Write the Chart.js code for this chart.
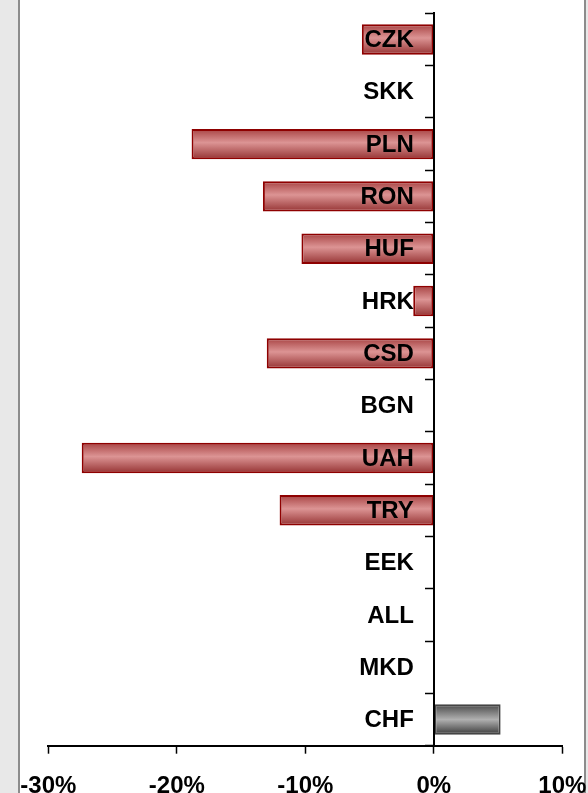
<!DOCTYPE html>
<html>
<head>
<meta charset="utf-8">
<script src="https://cdn.jsdelivr.net/npm/chart.js@4/dist/chart.umd.min.js"></script>
<style>
    html, body { margin: 0; padding: 0; }
    body { width: 588px; height: 793px; position: relative; overflow: hidden; background: #e8e8e8; }
    #frame {
        position: absolute; left: 18px; top: 0; width: 564px; height: 793px;
        background: #ffffff;
        border-left: 2px solid #8c8c8c;
        border-right: 2px solid #8c8c8c;
    }
    #chart { position: absolute; left: 0; top: 0; }
</style>
</head>
<body>
<div id="frame"></div>
<canvas id="chart" width="588" height="793"></canvas>
<script>
// Data
const currencies = ['CZK', 'SKK', 'PLN', 'RON', 'HUF', 'HRK', 'CSD', 'BGN', 'UAH', 'TRY', 'EEK', 'ALL', 'MKD', 'CHF'];
const changes = [-5.6, 0, -18.85, -13.3, -10.3, -1.6, -13.0, 0, -27.4, -12.0, 0, 0, 0, 5.2];
const axisTicks = [-30, -20, -10, 0, 10];

const labelFont = { family: '"Liberation Sans", Arial, sans-serif', size: 24, weight: 'bold' };

// vertical gradient across one bar
function barFill(context) {
    const chart = context.chart;
    const y = chart.scales.y;
    const value = changes[context.dataIndex];
    if (!chart.chartArea || !y) return value > 0 ? '#909090' : '#d08888';
    const centre = y.getPixelForValue(context.dataIndex);
    const half = 15;
    const g = chart.ctx.createLinearGradient(0, centre - half, 0, centre + half);
    if (value > 0) {
        g.addColorStop(0, '#4a4a4a');
        g.addColorStop(0.5, '#b0b0b0');
        g.addColorStop(1, '#3a3a3a');
    } else {
        g.addColorStop(0, '#a84444');
        g.addColorStop(0.45, '#dc9494');
        g.addColorStop(1, '#963434');
    }
    return g;
}

// category names sit just left of the zero line, on top of the bars
const categoryLabels = {
    id: 'categoryLabels',
    afterDatasetsDraw(chart) {
        const ctx = chart.ctx;
        const x = chart.scales.x.getPixelForValue(0) - 20;
        ctx.save();
        ctx.font = 'bold 24px "Liberation Sans", Arial, sans-serif';
        ctx.fillStyle = '#000000';
        ctx.textAlign = 'right';
        ctx.textBaseline = 'middle';
        currencies.forEach((name, i) => {
            ctx.fillText(name, x, chart.scales.y.getPixelForValue(i) + 1);
        });
        ctx.restore();
    }
};

new Chart(document.getElementById('chart').getContext('2d'), {
    type: 'bar',
    data: {
        labels: currencies,
        datasets: [{
            data: changes,
            backgroundColor: barFill,
            borderColor: (c) => changes[c.dataIndex] > 0 ? '#444444' : '#8e0000',
            borderWidth: (c) => changes[c.dataIndex] === 0 ? 0 : 2,
            borderSkipped: false,
            barPercentage: 0.58,
            categoryPercentage: 1
        }]
    },
    options: {
        indexAxis: 'y',
        responsive: false,
        devicePixelRatio: 1,
        animation: false,
        layout: { padding: { left: 48.3, right: 25.7, top: 13.3, bottom: 0 } },
        plugins: {
            legend: { display: false },
            tooltip: { enabled: false }
        },
        scales: {
            x: {
                min: -30,
                max: 10,
                afterBuildTicks: (s) => { s.ticks = axisTicks.map(v => ({ value: v })); },
                afterFit: (s) => { s.height = 47.3; s.paddingLeft = 0; s.paddingRight = 0; },
                ticks: {
                    color: '#000000',
                    font: labelFont,
                    padding: 18,
                    autoSkip: false,
                    maxRotation: 0,
                    callback: (v) => v + '%'
                },
                grid: { drawOnChartArea: false, tickLength: 8, tickWidth: 1.5, tickColor: '#000000' },
                border: { color: '#000000', width: 2, z: 1 }
            },
            y: {
                position: { x: 0 },
                afterFit: (s) => { s.paddingTop = 0; s.paddingBottom = 0; },
                ticks: { display: false },
                grid: { offset: true, drawOnChartArea: false, tickLength: 8, tickWidth: 1.5, tickColor: '#000000' },
                border: { color: '#000000', width: 2, z: 1 }
            }
        }
    },
    plugins: [categoryLabels]
});
</script>
</body>
</html>
